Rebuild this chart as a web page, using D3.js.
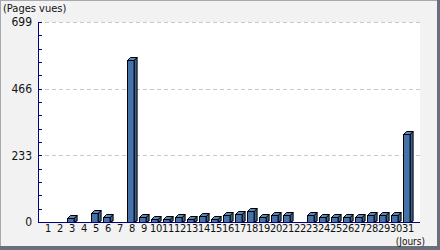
<!DOCTYPE html>
<html>
<head>
<meta charset="utf-8">
<script src="https://cdn.jsdelivr.net/npm/d3@7"></script>
<style>
  body { margin: 0; background: #fff; }
  svg text { font-family: "Liberation Sans Narrow", "DejaVu Sans Condensed", sans-serif; fill: #111; }
</style>
</head>
<body>
<svg id="chart" width="440" height="250"></svg>
<script>
// page views per day
var days = d3.range(1, 32).map(String);
var views = [0, 0, 13, 0, 33, 16, 0, 565, 16, 12, 12, 16, 12, 20, 12,
             23, 28, 40, 17, 23, 23, 0, 23, 17, 16, 16, 17, 23, 25, 26, 308];
var yTicks = [0, 233, 466, 699];

var svg = d3.select("#chart");
var W = 440, H = 250;
var plotL = 38, plotR = 420, plotT = 22, plotB = 222;
var depth = 3;

// background + bevelled frame
svg.append("rect").attr("width", W).attr("height", H).attr("fill", "#f2f2f2");
svg.append("rect").attr("x", 0).attr("y", 0).attr("width", W).attr("height", 1).attr("fill", "#a8a8b0");
svg.append("rect").attr("x", 0).attr("y", 0).attr("width", 1).attr("height", H).attr("fill", "#a8a8b0");
svg.append("rect").attr("x", W - 3).attr("y", 0).attr("width", 3).attr("height", H).attr("fill", "#6e6e7a");
svg.append("rect").attr("x", 0).attr("y", H - 4).attr("width", W).attr("height", 4).attr("fill", "#6e6e7a");

// plot area
svg.append("rect").attr("x", plotL).attr("y", plotT).attr("width", plotR - plotL).attr("height", plotB - plotT).attr("fill", "#fff");

var x = d3.scaleBand().domain(days).range([42, 414]).paddingInner(0.2).paddingOuter(0.1);
var y = d3.scaleLinear().domain([0, 699]).range([plotB, plotT]);

// dashed grid
svg.append("g").selectAll("line")
  .data(yTicks.filter(function(d) { return d > 0; }))
  .enter().append("line")
  .attr("x1", plotL).attr("x2", plotR)
  .attr("y1", function(d) { return Math.round(y(d)) + 0.5; })
  .attr("y2", function(d) { return Math.round(y(d)) + 0.5; })
  .attr("stroke", "#c8c8c8")
  .attr("stroke-dasharray", "4,3");

// bars (pseudo 3D)
var fw = x.bandwidth() - depth;
var bar = svg.append("g").selectAll("g")
  .data(days.map(function(d, i) { return { day: d, v: views[i] }; }).filter(function(d) { return d.v > 0; }))
  .enter().append("g");

bar.append("path")
  .attr("d", function(d) {
    var x0 = Math.round(x(d.day)) + 0.5, y0 = Math.round(y(d.v)) + 0.5, b = plotB;
    return "M" + (x0 + fw) + "," + b + "L" + (x0 + fw) + "," + y0 +
      "L" + (x0 + fw + depth) + "," + (y0 - depth) + "L" + (x0 + fw + depth) + "," + (b - 1) + "Z";
  })
  .attr("fill", "#3a6193").attr("stroke", "#000");

bar.append("path")
  .attr("d", function(d) {
    var x0 = Math.round(x(d.day)) + 0.5, y0 = Math.round(y(d.v)) + 0.5;
    return "M" + x0 + "," + y0 + "L" + (x0 + depth) + "," + (y0 - depth) +
      "L" + (x0 + fw + depth) + "," + (y0 - depth) + "L" + (x0 + fw) + "," + y0 + "Z";
  })
  .attr("fill", "#5b86bb").attr("stroke", "#000");

bar.append("rect")
  .attr("x", function(d) { return Math.round(x(d.day)) + 0.5; })
  .attr("y", function(d) { return Math.round(y(d.v)) + 0.5; })
  .attr("width", fw)
  .attr("height", function(d) { return plotB - Math.round(y(d.v)); })
  .attr("fill", "#4572a8").attr("stroke", "#000");

// axes
var axisColor = "#000080";
svg.append("line").attr("x1", plotL + 0.5).attr("x2", plotL + 0.5).attr("y1", plotT).attr("y2", plotB + 1)
  .attr("stroke", axisColor);
svg.append("line").attr("x1", plotL).attr("x2", plotR).attr("y1", plotB + 0.5).attr("y2", plotB + 0.5)
  .attr("stroke", axisColor);

// minor ticks on y axis
svg.append("g").selectAll("line")
  .data(d3.range(0, 16))
  .enter().append("line")
  .attr("x1", plotL).attr("x2", plotL + 4)
  .attr("y1", function(i) { return Math.round(y(i * 699 / 15)) + 0.5; })
  .attr("y2", function(i) { return Math.round(y(i * 699 / 15)) + 0.5; })
  .attr("stroke", axisColor);

// y labels
svg.append("g").selectAll("text")
  .data(yTicks)
  .enter().append("text")
  .attr("x", 32)
  .attr("y", function(d) { return y(d); })
  .attr("dy", "0.35em")
  .attr("text-anchor", "end")
  .style("font-size", "12px")
  .text(function(d) { return d; });

// x labels
svg.append("g").selectAll("text")
  .data(days)
  .enter().append("text")
  .attr("x", function(d) { return x(d) + x.bandwidth() / 2; })
  .attr("y", 232)
  .attr("text-anchor", "middle")
  .style("font-size", "11px")
  .style("letter-spacing", "-0.3px")
  .text(function(d) { return d; });

svg.append("text").attr("x", 3).attr("y", 12).style("font-size", "11px").text("(Pages vues)");
svg.append("text").attr("x", 425).attr("y", 245).attr("text-anchor", "end").style("font-size", "10px").text("(Jours)");
</script>
</body>
</html>
